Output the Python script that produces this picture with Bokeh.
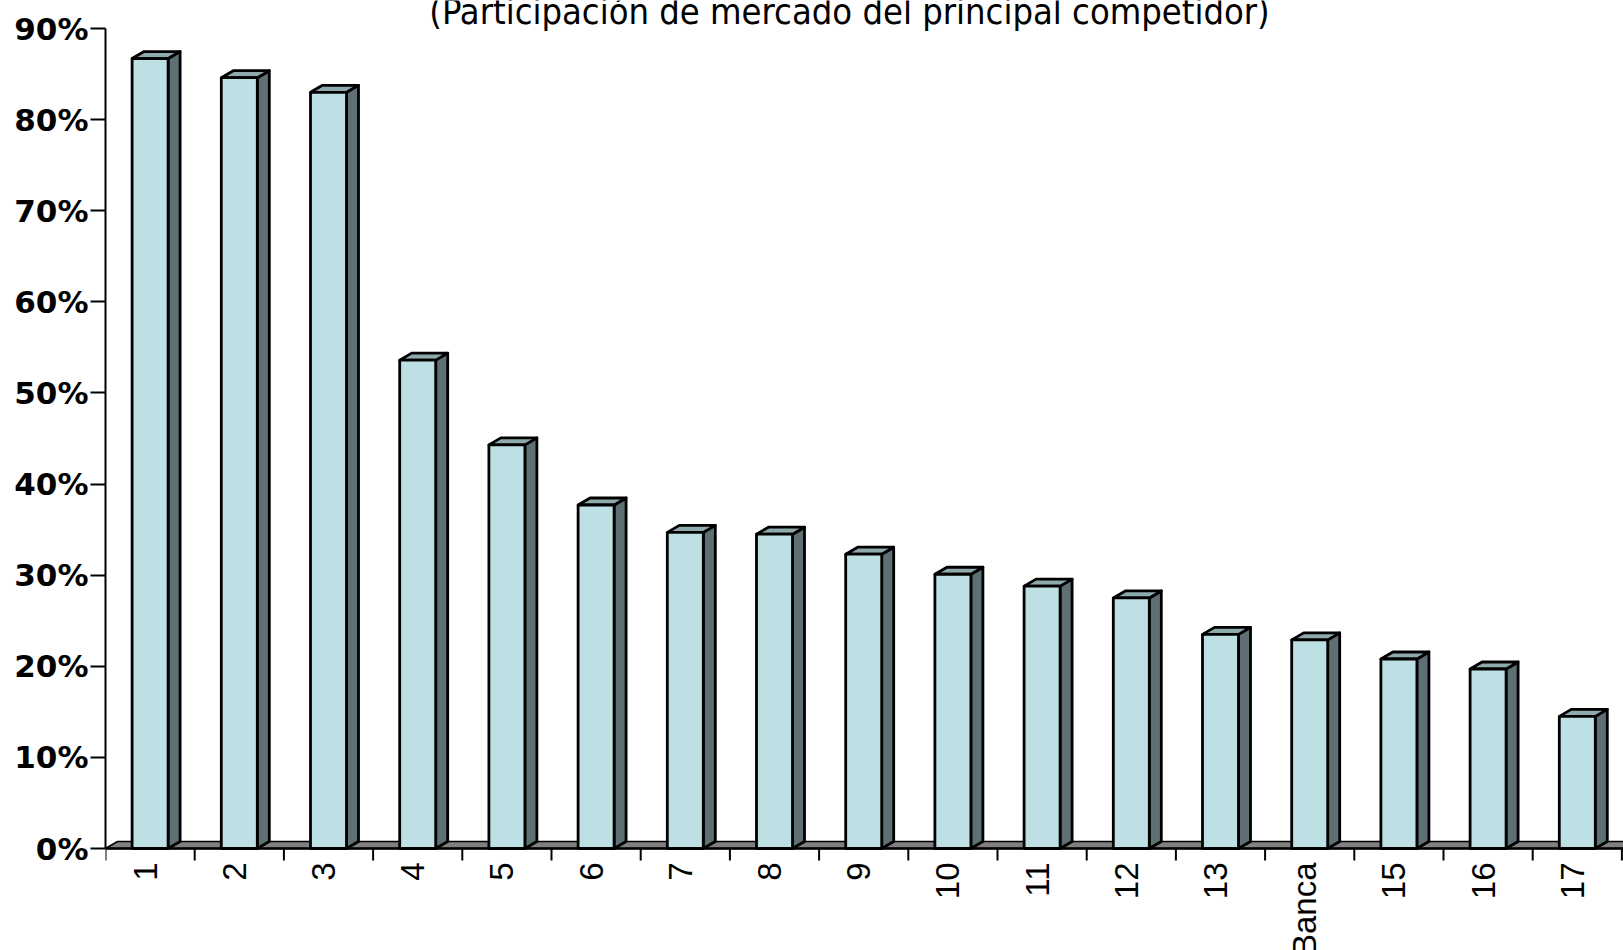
import numpy as np
from bokeh.plotting import figure
from bokeh.models import ColumnDataSource, FixedTicker, PrintfTickFormatter, Range1d
from bokeh.core.properties import value
from bokeh.embed import file_html
from bokeh.resources import INLINE

# ---------------- data ----------------
categories = ["1", "2", "3", "4", "5", "6", "7", "8", "9", "10", "11", "12",
              "13", "Banca", "15", "16", "17"]
shares = [86.7, 84.6, 83.0, 53.6, 44.3, 37.7, 34.7, 34.5, 32.3, 30.1, 28.8,
          27.5, 23.5, 22.9, 20.8, 19.7, 14.5]
y_ticks = [0, 10, 20, 30, 40, 50, 60, 70, 80, 90]
title_text = "(Participación de mercado del principal competidor)"

# ---------------- layout (pixels) ----------------
W, H = 1623, 950
LEFT = 105           # frame left edge inside figure
PX_CAT = 89.2        # pixels per category
PX_PCT = 820 / 90    # pixels per percentage point
BASE_Y = 848         # pixel row of 0 %
DEPTH_X, DEPTH_Y = 12, 7
FRONT_W = 36

FRONT = "#BCE0E4"
SIDE = "#5E7073"
TOPC = "#8EAAAD"
FLOOR = "#808080"

n = len(categories)
x_start = 0.5
x_end = 0.5 + (W - LEFT) / PX_CAT
y_end = BASE_Y / PX_PCT
y_start = -(H - BASE_Y) / PX_PCT

p = figure(width=W, height=H, x_range=Range1d(x_start, x_end),
           y_range=Range1d(y_start, y_end), x_axis_location=None,
           output_backend="svg", toolbar_location=None,
           min_border_left=LEFT, min_border_right=0, min_border_top=0,
           min_border_bottom=0)
p.outline_line_color = None
p.xgrid.visible = False
p.ygrid.visible = False

ddx = DEPTH_X / PX_CAT
ddy = DEPTH_Y / PX_PCT
hw = FRONT_W / 2 / PX_CAT

xs = np.arange(1, n + 1, dtype=float)
vals = np.array(shares, dtype=float)
xl = xs - hw
xr = xs + hw

# floor
far = x_end + 1
p.patch([0.5, far, far + ddx, 0.5 + ddx], [0, 0, ddy, ddy],
        fill_color=FLOOR, line_color="black", line_width=1.5)
p.segment(x0=[0.5], y0=[0], x1=[far], y1=[0], line_color="black", line_width=2.5)

# category boundary ticks
bounds = np.arange(0.5, n + 1.5, 1.0)
tick_len = 12 / PX_PCT
p.segment(x0=bounds, y0=np.zeros_like(bounds), x1=bounds,
          y1=np.full_like(bounds, -tick_len), line_color="black", line_width=2)

# 3D bars: side faces, top faces, front faces
side_src = ColumnDataSource(dict(
    xs=[[a, a + ddx, a + ddx, a] for a in xr],
    ys=[[0, ddy, v + ddy, v] for v in vals]))
p.patches("xs", "ys", source=side_src, fill_color=SIDE, line_color="black",
          line_width=2.8, line_join="round")
top_src = ColumnDataSource(dict(
    xs=[[a, a + ddx, b + ddx, b] for a, b in zip(xl, xr)],
    ys=[[v, v + ddy, v + ddy, v] for v in vals]))
p.patches("xs", "ys", source=top_src, fill_color=TOPC, line_color="black",
          line_width=2.8, line_join="round")
p.quad(left=xl, right=xr, bottom=0, top=vals, fill_color=FRONT,
       line_color="black", line_width=2.8)

# category labels (rotated)
lab_y = -14 / PX_PCT
p.text(x=xs, y=np.full_like(xs, lab_y), text=categories, angle=np.pi / 2,
       text_align="right", text_baseline="middle", x_offset=-5,
       text_font=value("Liberation Sans"), text_font_size="33px",
       text_color="black")

# title (partly cut at the top, as in the original)
title_x = 0.5 + (849 - LEFT) / PX_CAT
title_y = (BASE_Y - 11) / PX_PCT
p.text(x=[title_x], y=[title_y], text=[title_text], text_align="center",
       text_baseline="alphabetic",
       text_font=value("'DejaVu Sans Condensed', 'DejaVu Sans', sans-serif"),
       text_font_size="36px", text_color="black")

# y axis
ax = p.yaxis[0]
ax.ticker = FixedTicker(ticks=y_ticks)
ax.formatter = PrintfTickFormatter(format="%d%%")
ax.bounds = (0, 90)
ax.major_label_text_font = "DejaVu Sans"
ax.major_label_text_font_style = "bold"
ax.major_label_text_font_size = "31px"
ax.major_label_text_color = "black"
ax.major_label_standoff = 2
ax.major_tick_out = 15
ax.major_tick_in = 0
ax.minor_tick_out = 0
ax.minor_tick_in = 0
ax.axis_line_width = 2
ax.axis_line_color = "black"
ax.major_tick_line_width = 2
ax.major_tick_line_color = "black"

open("out.html", "w").write(file_html(p, INLINE))
